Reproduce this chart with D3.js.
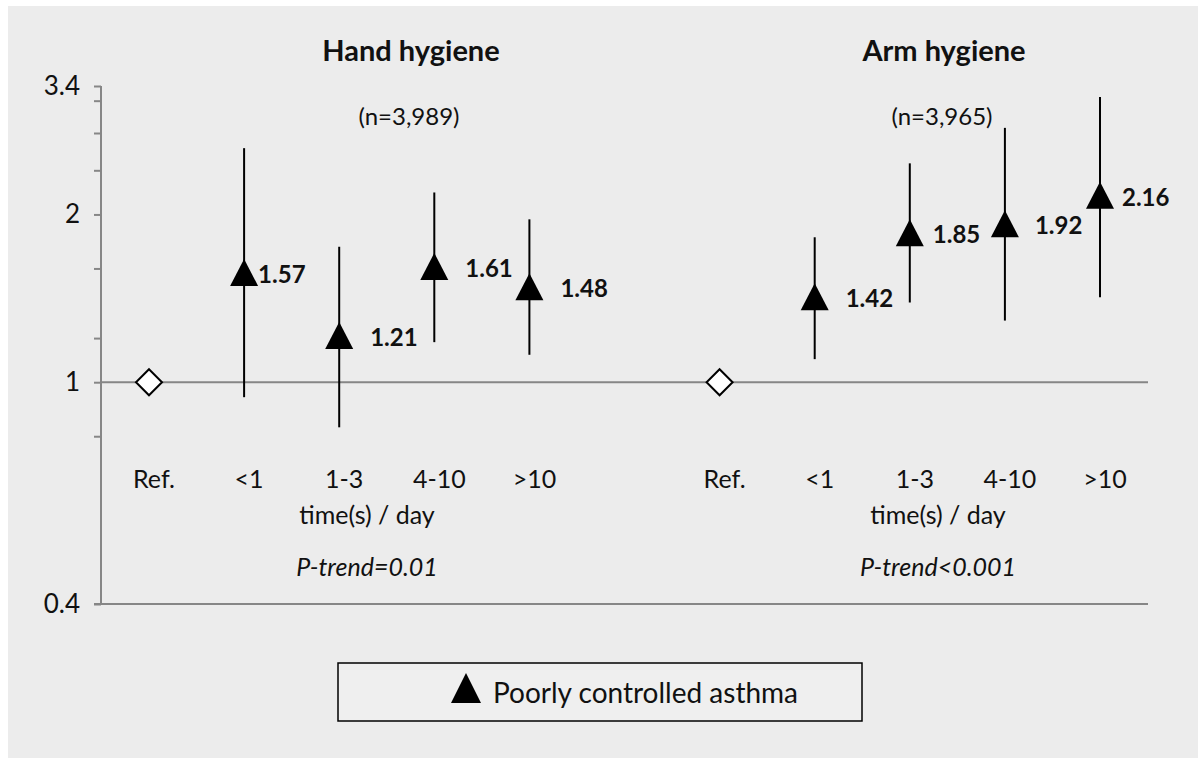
<!DOCTYPE html>
<html>
<head>
<meta charset="utf-8">
<script src="https://cdn.jsdelivr.net/npm/d3@7"></script>
<style>
  body { margin: 0; background: #fff; }
  text { font-family: Lato, "Open Sans", sans-serif; fill: #111; }
  .axis path, .axis line { stroke: #868686; stroke-width: 2; }
  .axis text { font-size: 26px; }
</style>
</head>
<body>
<div id="chart"></div>
<script>
// exposure categories (the blank "gap" slot separates the two panels)
var categories = ["Ref.", "<1", "1-3", "4-10", ">10"];
var panels = ["Hand hygiene", "Arm hygiene"];
var panelN = ["(n=3,989)", "(n=3,965)"];
var panelTrend = ["P-trend=0.01", "P-trend<0.001"];

// odds ratios and 95% CI
var handOR = [1, 1.57, 1.21, 1.61, 1.48];
var handLow = [null, 0.94, 0.83, 1.18, 1.12];
var handHigh = [null, 2.63, 1.75, 2.19, 1.96];

var armOR = [1, 1.42, 1.85, 1.92, 2.16];
var armLow = [null, 1.10, 1.39, 1.29, 1.42];
var armHigh = [null, 1.82, 2.47, 2.86, 3.25];

var yLabelTicks = [0.4, 1, 2, 3.4];
var yMinorTicks = [0.8, 1.2, 1.6, 2.4, 2.8, 3.2];

// how far right the value labels sit from the marker (px)
var handLabelDx = [0, 14, 31, 31, 31];
var armLabelDx = [0, 31, 23, 30, 22];

var width = 1198, height = 758;

var svg = d3.select("#chart").append("svg")
  .attr("width", width)
  .attr("height", height);

// grey panel
svg.append("rect")
  .attr("x", 8).attr("y", 6)
  .attr("width", width - 8).attr("height", height - 6)
  .attr("fill", "#ececec");

var slots = categories.map(function(c) { return "hand:" + c })
  .concat(["gap"])
  .concat(categories.map(function(c) { return "arm:" + c }));

var x = d3.scalePoint().domain(slots).range([149, 1100]);
var y = d3.scaleLog().domain([0.4, 3.4]).range([604, 86]);

var plotLeft = 101, plotRight = 1148;

// y axis
var yAxis = d3.axisLeft(y)
  .tickValues(yLabelTicks.concat(yMinorTicks))
  .tickSize(7)
  .tickPadding(14)
  .tickFormat(function(d) { return yLabelTicks.indexOf(d) >= 0 ? d : "" });

svg.append("g")
  .attr("class", "axis y-axis")
  .attr("transform", "translate(" + plotLeft + ",0)")
  .call(yAxis)
  .call(function(g) { g.select(".domain").attr("d", "M0," + y(0.4) + "V" + y(3.4)); });

// bottom line and reference line at 1
svg.append("line")
  .attr("x1", plotLeft - 7).attr("x2", plotRight)
  .attr("y1", y(0.4)).attr("y2", y(0.4))
  .attr("stroke", "#868686").attr("stroke-width", 2);

svg.append("line")
  .attr("x1", plotLeft).attr("x2", plotRight)
  .attr("y1", y(1)).attr("y2", y(1))
  .attr("stroke", "#868686").attr("stroke-width", 2);

function rows(prefix, or, lo, hi, dx) {
  return categories.map(function(c, i) {
    return { key: prefix + ":" + c, cat: c, or: or[i], lo: lo[i], hi: hi[i], dx: dx[i], ref: i === 0 };
  });
}

var datapoints = rows("hand", handOR, handLow, handHigh, handLabelDx)
  .concat(rows("arm", armOR, armLow, armHigh, armLabelDx));

// error bars
svg.selectAll(".ci")
  .data(datapoints.filter(function(d) { return !d.ref }))
  .enter().append("line")
  .attr("class", "ci")
  .attr("x1", function(d) { return x(d.key) })
  .attr("x2", function(d) { return x(d.key) })
  .attr("y1", function(d) { return y(d.lo) })
  .attr("y2", function(d) { return y(d.hi) })
  .attr("stroke", "#000")
  .attr("stroke-width", 2);

// reference diamonds
svg.selectAll(".ref")
  .data(datapoints.filter(function(d) { return d.ref }))
  .enter().append("path")
  .attr("class", "ref")
  .attr("d", "M0,-13L13,0L0,13L-13,0Z")
  .attr("transform", function(d) { return "translate(" + x(d.key) + "," + y(d.or) + ")" })
  .attr("fill", "#fff")
  .attr("stroke", "#000")
  .attr("stroke-width", 2);

// triangles
svg.selectAll(".tri")
  .data(datapoints.filter(function(d) { return !d.ref }))
  .enter().append("path")
  .attr("class", "tri")
  .attr("d", "M0,-14L14,13L-14,13Z")
  .attr("transform", function(d) { return "translate(" + x(d.key) + "," + y(d.or) + ")" })
  .attr("fill", "#000");

// value labels
svg.selectAll(".val")
  .data(datapoints.filter(function(d) { return !d.ref }))
  .enter().append("text")
  .attr("class", "val")
  .attr("x", function(d) { return x(d.key) + d.dx })
  .attr("y", function(d) { return y(d.or) + 10 })
  .style("font-size", "24px")
  .style("font-weight", "bold")
  .text(function(d) { return d3.format(".2f")(d.or) });

// category labels
svg.selectAll(".cat")
  .data(datapoints)
  .enter().append("text")
  .attr("class", "cat")
  .attr("x", function(d) { return x(d.key) + 5 })
  .attr("y", 488)
  .attr("text-anchor", "middle")
  .style("font-size", "25px")
  .text(function(d) { return d.cat });

// panel annotations
var panelCenter = [411, 944];
var subCenter = [367, 938];

panels.forEach(function(p, i) {
  svg.append("text")
    .attr("x", panelCenter[i]).attr("y", 61)
    .attr("text-anchor", "middle")
    .style("font-size", "29px").style("font-weight", "bold")
    .text(p);
  svg.append("text")
    .attr("x", panelCenter[i] - 2).attr("y", 125)
    .attr("text-anchor", "middle")
    .style("font-size", "24px")
    .text(panelN[i]);
  svg.append("text")
    .attr("x", subCenter[i]).attr("y", 524)
    .attr("text-anchor", "middle")
    .style("font-size", "25px")
    .text("time(s) / day");
  svg.append("text")
    .attr("x", subCenter[i]).attr("y", 576)
    .attr("text-anchor", "middle")
    .style("font-size", "25px").style("font-style", "italic")
    .text(panelTrend[i]);
});

// legend
var legend = svg.append("g").attr("transform", "translate(338,663)");
legend.append("rect")
  .attr("width", 524).attr("height", 58)
  .attr("fill", "#efefef")
  .attr("stroke", "#000").attr("stroke-width", 1.5);
legend.append("path")
  .attr("d", "M0,-15L15,15L-15,15Z")
  .attr("transform", "translate(128,25)")
  .attr("fill", "#000");
legend.append("text")
  .attr("x", 155).attr("y", 40)
  .style("font-size", "28px")
  .text("Poorly controlled asthma");
</script>
</body>
</html>
